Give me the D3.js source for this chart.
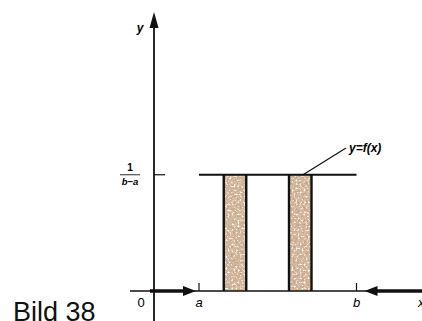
<!DOCTYPE html>
<html>
<head>
<meta charset="utf-8">
<script src="https://cdn.jsdelivr.net/npm/d3@7"></script>
<style>
body{margin:0;background:#fff;}
svg{display:block;}
text{font-family:"Liberation Sans",Arial,sans-serif;}
</style>
</head>
<body>
<svg id="chart" width="422" height="321"></svg>
<script>
//data
var bounds=[2,9];            // a, b
var boundLabels=["a","b"];
var bars=[[3.1,4.1],[6.0,7.0]];
var density=[1];             // height of f(x) = 1/(b-a)
var xDomain=[0,12];
var yDomain=[0,2.4];

var svg=d3.select("#chart");
var x=d3.scaleLinear().domain(xDomain).range([154,424]);
var y=d3.scaleLinear().domain(yDomain).range([291,12]);

/*grain for the shaded bars*/
var defs=svg.append("defs");
var filt=defs.append("filter").attr("id","grain").attr("x",0).attr("y",0).attr("width",1).attr("height",1);
filt.append("feTurbulence").attr("type","fractalNoise").attr("baseFrequency",0.45).attr("numOctaves",3).attr("seed",7).attr("result","n");
filt.append("feColorMatrix").attr("in","n").attr("type","matrix")
	.attr("values","0 0 0 0 0.55  0 0 0 0 0.38  0 0 0 0 0.28  4 0 0 0 -1.7").attr("result","c");
filt.append("feComposite").attr("in","c").attr("in2","SourceGraphic").attr("operator","in");
var filt2=defs.append("filter").attr("id","light").attr("x",0).attr("y",0).attr("width",1).attr("height",1);
filt2.append("feTurbulence").attr("type","fractalNoise").attr("baseFrequency",0.5).attr("numOctaves",2).attr("seed",2).attr("result","n");
filt2.append("feColorMatrix").attr("in","n").attr("type","matrix")
	.attr("values","0 0 0 0 1  0 0 0 0 0.97  0 0 0 0 0.93  0 4 0 0 -2.1").attr("result","c");
filt2.append("feComposite").attr("in","c").attr("in2","SourceGraphic").attr("operator","in");

var g=svg.append("g");

/*bars*/
function barRects(cls,fill,filter){
	var r=g.selectAll("."+cls).data(bars).enter().append("rect").attr("class",cls)
		.attr("x",function(d){return x(d[0]);})
		.attr("y",y(density[0]))
		.attr("width",function(d){return x(d[1])-x(d[0]);})
		.attr("height",y(0)-y(density[0]))
		.attr("fill",fill);
	if(filter){r.attr("filter",filter);}
}
barRects("bar","#d6bc9c");
barRects("grain","#000","url(#grain)");
barRects("light","#000","url(#light)");
bars.forEach(function(d){
	d.forEach(function(v){
		g.append("line").attr("x1",x(v)).attr("x2",x(v)).attr("y1",y(density[0])).attr("y2",y(0))
			.attr("stroke","#111").attr("stroke-width",2.4);
	});
});

/*axes*/
g.append("line").attr("x1",130).attr("x2",422).attr("y1",y(0)).attr("y2",y(0)).attr("stroke","#111").attr("stroke-width",1.6);
g.append("line").attr("x1",x(0)).attr("x2",x(0)).attr("y1",y(yDomain[1])+10).attr("y2",321).attr("stroke","#111").attr("stroke-width",1.8);
g.append("path").attr("d","M"+x(0)+","+y(yDomain[1])+"l-4.5,16l9,0z").attr("fill","#111");
g.append("text").attr("x",x(0)-14).attr("y",y(yDomain[1])+20).attr("font-size",12).attr("font-style","italic").attr("font-weight","bold").attr("text-anchor","middle").text("y");

/*thick arrows on x axis*/
g.append("line").attr("x1",x(0)-4).attr("x2",x(bounds[0])-12).attr("y1",y(0)).attr("y2",y(0)).attr("stroke","#111").attr("stroke-width",3.5);
g.append("path").attr("d","M"+(x(bounds[0])-3)+","+y(0)+"l-13,-5l0,10z").attr("fill","#111");
g.append("line").attr("x1",x(bounds[1])+18).attr("x2",422).attr("y1",y(0)).attr("y2",y(0)).attr("stroke","#111").attr("stroke-width",3.5);
g.append("path").attr("d","M"+(x(bounds[1])+8)+","+y(0)+"l13,-5l0,10z").attr("fill","#111");

/*ticks at a and b*/
g.selectAll(".tick").data(bounds).enter().append("line").attr("class","tick")
	.attr("x1",function(d){return x(d);}).attr("x2",function(d){return x(d);})
	.attr("y1",y(0)-8).attr("y2",y(0)).attr("stroke","#111").attr("stroke-width",1.2);
g.selectAll(".blab").data(bounds).enter().append("text").attr("class","blab")
	.attr("x",function(d){return x(d);}).attr("y",y(0)+16)
	.attr("font-size",13).attr("font-style","italic").attr("text-anchor","middle")
	.text(function(d,i){return boundLabels[i];});
g.append("text").attr("x",x(0)-13).attr("y",y(0)+16).attr("font-size",13).attr("text-anchor","middle").text("0");
g.append("text").attr("x",418).attr("y",y(0)+16).attr("font-size",13).attr("font-style","italic").text("x");

/*f(x) line*/
g.append("line").attr("x1",x(bounds[0])).attr("x2",x(bounds[1])).attr("y1",y(density[0])).attr("y2",y(density[0]))
	.attr("stroke","#111").attr("stroke-width",2.2);
g.append("line").attr("x1",x(0)).attr("x2",x(0)+11).attr("y1",y(density[0])).attr("y2",y(density[0])).attr("stroke","#111").attr("stroke-width",1.2);

/*fraction label*/
g.append("text").attr("x",x(0)-24).attr("y",y(density[0])-4).attr("font-size",10).attr("font-weight","bold").attr("text-anchor","middle").text("1");
g.append("line").attr("x1",x(0)-34).attr("x2",x(0)-14).attr("y1",y(density[0])).attr("y2",y(density[0])).attr("stroke","#111").attr("stroke-width",0.9);
g.append("text").attr("x",x(0)-24).attr("y",y(density[0])+10).attr("font-size",9.5).attr("font-style","italic").attr("font-weight","bold").attr("text-anchor","middle").text("b−a");

/*leader and label*/
g.append("line").attr("x1",x(bars[1][0])+14).attr("y1",y(density[0])).attr("x2",346).attr("y2",148).attr("stroke","#111").attr("stroke-width",1.2);
g.append("text").attr("x",349).attr("y",152).attr("font-size",12).attr("font-style","italic").attr("font-weight","bold").text("y=f(x)");

/*caption*/
svg.append("text").attr("x",13).attr("y",321).attr("font-size",27).attr("fill","#111").text("Bild 38");
</script>
</body>
</html>
